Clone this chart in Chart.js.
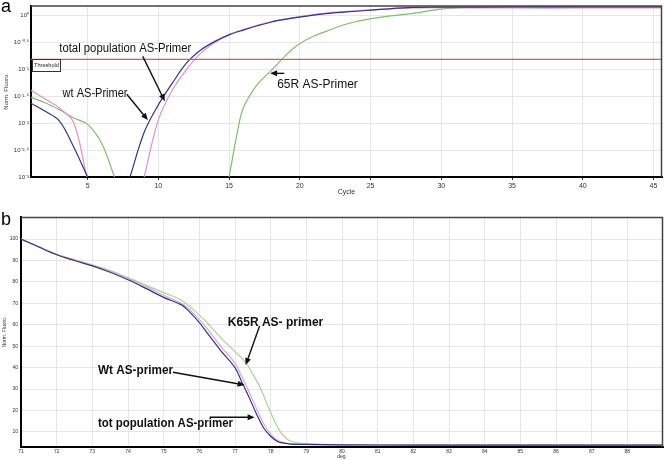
<!DOCTYPE html>
<html>
<head>
<meta charset="utf-8">
<script src="https://cdn.jsdelivr.net/npm/chart.js@4.4.1/dist/chart.umd.min.js"></script>
<style>
  body { margin: 0; background: #fff; }
  #wrap { position: relative; width: 664px; height: 460px; font-family: "Liberation Sans", Arial, sans-serif; }
  .panel { position: absolute; left: 0; width: 664px; }
  #boxA { top: 0; height: 200px; }
  #boxB { top: 205px; height: 255px; }
  .tag { position: absolute; left: 1px; font-size: 18px; line-height: 1; color: #000; }
</style>
</head>
<body>
<div id="wrap">
  <div class="panel" id="boxA"><canvas id="chartA"></canvas></div>
  <div class="panel" id="boxB"><canvas id="chartB"></canvas></div>
  <div class="tag" style="top:-3px">a</div>
  <div class="tag" style="top:210px">b</div>
</div>
<script>
// ---- panel a: amplification (Norm. Fluoro., log) vs cycle
const wtCycles   = [1, 2, 3, 4, 5, 6.5, 8, 9, 10, 11, 12, 13, 14, 15, 16, 17, 18, 19, 20, 22, 24, 26, 28, 30, 35, 40, 45.6];
const wtFluo     = [0.0234, 0.0166, 0.011, 0.0037, 0.001, null, 0.001, 0.0068, 0.0219, 0.0562, 0.132, 0.229, 0.331, 0.437, 0.537, 0.646, 0.759, 0.851, 0.933, 1.096, 1.202, 1.318, 1.413, 1.429, 1.445, 1.445, 1.445];
const totCycles  = [1, 2, 3, 4, 4.95, 7, 9, 10, 11, 12, 13, 14, 15, 16, 17, 18, 19, 20, 22, 24, 26, 28, 30, 35, 40, 45.6];
const totFluo    = [0.0407, 0.0282, 0.0191, 0.0105, 0.001, null, 0.001, 0.0115, 0.0417, 0.1, 0.2, 0.316, 0.447, 0.55, 0.661, 0.776, 0.871, 0.955, 1.122, 1.23, 1.318, 1.38, 1.396, 1.38, 1.38, 1.38];
const k65Cycles  = [1, 2, 3, 4, 5, 6, 6.9, 10, 15, 15.6, 16, 17, 18, 19, 20, 21, 22, 23, 24, 25, 26, 28, 30, 32, 35, 40, 45.6];
const k65Fluo    = [0.0302, 0.024, 0.0178, 0.0126, 0.0095, 0.0042, 0.001, null, 0.001, 0.0071, 0.019, 0.0525, 0.0955, 0.182, 0.302, 0.417, 0.525, 0.66, 0.776, 0.871, 0.955, 1.096, 1.318, 1.413, 1.429, 1.429, 1.429];
const threshold  = 0.153;
const cycleTicks = [5, 10, 15, 20, 25, 30, 35, 40, 45];
const fluoTickExp    = [0, -0.5, -1, -1.5, -2, -2.5, -3];
const fluoTickLabels = ['10\u2070', '10\u207B\u2070\u00B7\u2075', '10\u207B\u00B9', '10\u207B\u00B9\u00B7\u2075', '10\u207B\u00B2', '10\u207B\u00B2\u00B7\u2075', '10\u207B\u00B3'];

// ---- panel b: melt curves (Norm. Fluoro.) vs temperature
const wtTemp   = [71, 71.5, 72, 72.5, 73, 73.5, 74, 74.5, 75, 75.5, 75.7, 76, 76.3, 76.6, 77, 77.2, 77.4, 77.6, 77.8, 78, 78.2, 78.5, 79, 80, 82, 84, 86, 88, 89];
const wtMelt   = [100, 96.3, 92.7, 90, 87.5, 84.5, 81, 77, 72.8, 69.3, 66.5, 61, 54.5, 48, 40, 33, 26, 18.5, 12, 8, 5.5, 4.5, 4.2, 4, 3.9, 3.9, 3.9, 3.9, 3.9];
const totTemp  = [71, 71.5, 72, 72.5, 73, 73.5, 74, 74.5, 75, 75.5, 75.7, 76, 76.3, 76.6, 77, 77.2, 77.4, 77.6, 77.8, 78, 78.2, 78.5, 79, 80, 82, 84, 86, 88, 89];
const totMelt  = [100, 96.4, 92.8, 90.2, 87.8, 85, 81.6, 77.8, 73.8, 70, 67.5, 62.5, 56.5, 50, 42, 35.5, 28.5, 21, 14, 9, 6, 4.6, 4.2, 4, 3.9, 3.9, 3.9, 3.9, 3.9];
const k65Temp  = [71, 71.5, 72, 72.5, 73, 73.5, 74, 74.5, 75, 75.5, 76, 76.3, 76.6, 77, 77.3, 77.5, 77.7, 77.9, 78.1, 78.3, 78.5, 78.8, 79.2, 80, 82, 84, 86, 88, 89];
const k65Melt  = [100, 96.5, 93, 90.3, 88, 85.3, 82, 78.5, 75, 71.5, 64.5, 59.5, 54, 47.5, 42.5, 37, 31, 23, 15.5, 9.5, 6.3, 4.8, 4.3, 4.1, 4, 4, 4, 4, 4];
const tempTicks  = [71, 72, 73, 74, 75, 76, 77, 78, 79, 80, 81, 82, 83, 84, 85, 86, 87, 88];
const meltTicks  = [10, 20, 30, 40, 50, 60, 70, 80, 90, 100];

// annotations, placed in data units
const notesA = [
  { text: 'total population AS-Primer', x: 3.0, y: 0.245, w: 132 },
  { text: 'wt AS-Primer', x: 3.23, y: 0.036, w: 65 },
  { text: '65R AS-Primer', x: 18.4, y: 0.0527, w: 86 }
];
const arrowsA = [
  { from: [8.9, 0.174], to: [10.46, 0.0256] },
  { from: [7.77, 0.0344], to: [9.26, 0.0114] },
  { from: [18.9, 0.0843], to: [17.9, 0.0843] }
];
const notesB = [
  { text: 'K65R AS- primer', x: 76.8, y: 60.8, w: 97 },
  { text: 'Wt AS-primer', x: 73.16, y: 38.4, w: 75 },
  { text: 'tot population AS-primer', x: 73.16, y: 14.1, w: 135 }
];
const arrowsB = [
  { from: [77.69, 59.4], to: [77.3, 41.2] },
  { from: [75.26, 37.9], to: [77.27, 31.9] },
  { from: [76.29, 16.9], to: [77.55, 16.9] }
];

const NAVY = '#34348c', PINK = '#dc8fd8', PINK_B = '#e0a2de', GREEN = '#7cc264', GREEN_B = '#a3d98e';
const pts = (xs, ys) => xs.map((x, i) => ({ x: x, y: ys[i] }));

function arrow(ctx, x1, y1, x2, y2) {
  const a = Math.atan2(y2 - y1, x2 - x1), L = 7, W = 3;
  ctx.beginPath();
  ctx.moveTo(x1, y1);
  ctx.lineTo(x2 - Math.cos(a) * L * 0.8, y2 - Math.sin(a) * L * 0.8);
  ctx.stroke();
  ctx.beginPath();
  ctx.moveTo(x2, y2);
  ctx.lineTo(x2 - Math.cos(a) * L - Math.sin(a) * W, y2 - Math.sin(a) * L + Math.cos(a) * W);
  ctx.lineTo(x2 - Math.cos(a) * L + Math.sin(a) * W, y2 - Math.sin(a) * L - Math.cos(a) * W);
  ctx.closePath();
  ctx.fill();
}

// frame on top/right, threshold tag, text notes and arrows
const decor = {
  id: 'decor',
  afterDatasetsDraw(chart, args, opts) {
    const { ctx, chartArea: ca, scales: { x, y } } = chart;
    ctx.save();
    ctx.strokeStyle = '#444';
    ctx.lineWidth = 1.5;
    ctx.beginPath();
    ctx.moveTo(ca.left, ca.top + 0.5);
    ctx.lineTo(ca.right - 0.5, ca.top + 0.5);
    ctx.lineTo(ca.right - 0.5, ca.bottom);
    ctx.stroke();

    if (opts.threshold) {
      const ty = Math.round(y.getPixelForValue(opts.threshold));
      ctx.fillStyle = '#fff';
      ctx.strokeStyle = '#333';
      ctx.lineWidth = 1;
      ctx.fillRect(ca.left + 1, ty + 1, 28, 12);
      ctx.strokeRect(ca.left + 1.5, ty + 0.5, 28, 12);
      ctx.fillStyle = '#222';
      ctx.font = '6px "Liberation Sans", Arial, sans-serif';
      ctx.textBaseline = 'middle';
      ctx.fillText('Threshold', ca.left + 3, ty + 6.5, 25);
    }

    ctx.fillStyle = '#111';
    ctx.font = opts.font;
    ctx.textBaseline = 'middle';
    opts.notes.forEach(n => {
      ctx.fillText(n.text, x.getPixelForValue(n.x), y.getPixelForValue(n.y), n.w);
    });
    ctx.strokeStyle = '#111';
    ctx.lineWidth = 1.4;
    opts.arrows.forEach(a => {
      arrow(ctx, x.getPixelForValue(a.from[0]), y.getPixelForValue(a.from[1]),
        x.getPixelForValue(a.to[0]), y.getPixelForValue(a.to[1]));
    });
    ctx.restore();
  }
};

const lineDs = (label, data, color, order) => ({
  label: label, data: data, borderColor: color, borderWidth: 1.2,
  pointRadius: 0, fill: false, spanGaps: false,
  tension: 0.35, order: order
});

Chart.defaults.font.family = '"Liberation Sans", Arial, sans-serif';
Chart.defaults.color = '#333';

new Chart(document.getElementById('chartA'), {
  type: 'line',
  data: {
    datasets: [
      lineDs('wt AS-Primer', pts(wtCycles, wtFluo), NAVY, 1),
      lineDs('total population AS-Primer', pts(totCycles, totFluo), PINK, 2),
      lineDs('65R AS-Primer', pts(k65Cycles, k65Fluo), GREEN, 3),
      { label: 'Threshold', data: [{ x: 1, y: threshold }, { x: 45.6, y: threshold }],
        borderColor: '#e5574c', borderWidth: 1.1, pointRadius: 0, order: 0 }
    ]
  },
  options: {
    responsive: true, maintainAspectRatio: false, animation: false,
    layout: { padding: { top: 4, right: 2, left: 0, bottom: 0 } },
    plugins: {
      legend: { display: false }, tooltip: { enabled: false },
      decor: { threshold: threshold, notes: notesA, arrows: arrowsA,
        font: '12px "Liberation Sans", Arial, sans-serif' }
    },
    scales: {
      x: {
        type: 'linear', min: 1, max: 45.6,
        afterBuildTicks: s => { s.ticks = cycleTicks.map(v => ({ value: v })); },
        afterFit: s => { s.height = 23; },
        grid: { color: '#e6e6e6', tickColor: '#333', tickLength: 3 },
        border: { color: '#000', width: 2 },
        ticks: { font: { size: 7 }, padding: 2, maxRotation: 0, autoSkip: false },
        title: { display: true, text: 'Cycle', font: { size: 7 }, padding: { top: 0, bottom: 4 } }
      },
      y: {
        type: 'logarithmic', min: 0.001, max: 1.53,
        afterBuildTicks: s => { s.ticks = fluoTickExp.map(e => ({ value: Math.pow(10, e) })); },
        afterFit: s => { s.width = 31; },
        grid: { color: '#e6e6e6', drawTicks: false },
        border: { color: '#000', width: 2 },
        ticks: { font: { size: 6 }, padding: 2, autoSkip: false,
          callback: (v, i) => fluoTickLabels[i] },
        title: { display: true, text: 'Norm. Fluoro.', font: { size: 6 }, padding: { top: 3, bottom: 0 } }
      }
    }
  },
  plugins: [decor]
});

new Chart(document.getElementById('chartB'), {
  type: 'line',
  data: {
    datasets: [
      lineDs('Wt AS-primer', pts(wtTemp, wtMelt), NAVY, 1),
      lineDs('tot population AS-primer', pts(totTemp, totMelt), PINK_B, 2),
      lineDs('K65R AS- primer', pts(k65Temp, k65Melt), GREEN_B, 3)
    ]
  },
  options: {
    responsive: true, maintainAspectRatio: false, animation: false,
    layout: { padding: { top: 12, right: 1, left: 0, bottom: 0 } },
    plugins: {
      legend: { display: false }, tooltip: { enabled: false },
      decor: { notes: notesB, arrows: arrowsB,
        font: 'bold 12px "Liberation Sans", Arial, sans-serif' }
    },
    scales: {
      x: {
        type: 'linear', min: 71, max: 89,
        afterBuildTicks: s => { s.ticks = tempTicks.map(v => ({ value: v })); },
        afterFit: s => { s.height = 13; },
        grid: { color: '#e6e6e6', drawTicks: false },
        border: { color: '#000', width: 2 },
        ticks: { font: { size: 5 }, padding: 2, maxRotation: 0, autoSkip: false },
        title: { display: true, text: 'deg.', font: { size: 5 }, padding: { top: 0, bottom: 0 } }
      },
      y: {
        type: 'linear', min: 3, max: 110.3,
        afterBuildTicks: s => { s.ticks = meltTicks.map(v => ({ value: v })); },
        afterFit: s => { s.width = 21; },
        grid: { color: '#e6e6e6', drawTicks: false },
        border: { color: '#000', width: 2 },
        ticks: { font: { size: 5 }, padding: 3, autoSkip: false },
        title: { display: true, text: 'Norm. Fluoro.', font: { size: 5 }, padding: { top: 2, bottom: 0 } }
      }
    }
  },
  plugins: [decor]
});
</script>
</body>
</html>
